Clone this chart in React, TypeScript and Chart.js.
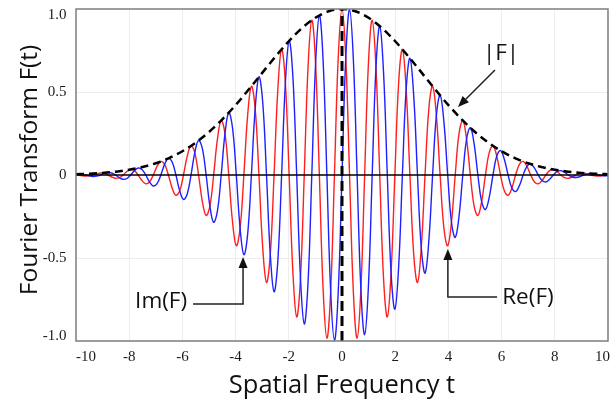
import React, { useEffect, useRef } from 'react';
import { Chart, registerables } from 'chart.js';

Chart.register(...registerables);

// Spatial frequency samples (t)
const tValues = [
  -10,
  -9.933, -9.791, -9.649, -9.507, -9.365, -9.224, -9.082, -8.94,
  -8.798, -8.656, -8.514, -8.372, -8.23, -8.088, -7.946, -7.805,
  -7.663, -7.521, -7.379, -7.237, -7.095, -6.953, -6.811, -6.669,
  -6.527, -6.386, -6.244, -6.102, -5.96, -5.818, -5.676, -5.534,
  -5.392, -5.25, -5.108, -4.967, -4.825, -4.683, -4.541, -4.399,
  -4.257, -4.115, -3.973, -3.831, -3.689, -3.548, -3.406, -3.264,
  -3.122, -2.98, -2.838, -2.696, -2.554, -2.412, -2.27, -2.129,
  -1.987, -1.845, -1.703, -1.561, -1.419, -1.277, -1.135, -0.993,
  -0.851, -0.71, -0.568, -0.426, -0.284, -0.142,
  0,
  0.142, 0.284, 0.426, 0.568, 0.71, 0.851,
  0.993, 1.135, 1.277, 1.419, 1.561, 1.703, 1.845, 1.987,
  2.129, 2.27, 2.412, 2.554, 2.696, 2.838, 2.98, 3.122,
  3.264, 3.406, 3.548, 3.689, 3.831, 3.973, 4.115, 4.257,
  4.399, 4.541, 4.683, 4.825, 4.967, 5.108, 5.25, 5.392,
  5.534, 5.676, 5.818, 5.96, 6.102, 6.244, 6.386, 6.527,
  6.669, 6.811, 6.953, 7.095, 7.237, 7.379, 7.521, 7.663,
  7.805, 7.946, 8.088, 8.23, 8.372, 8.514, 8.656, 8.798,
  8.94, 9.082, 9.224, 9.365, 9.507, 9.649, 9.791, 9.933,
  10,
];

// Re(F) — red
const reValues = [
  0.002,
  0, -0.004, -0.007, -0.005, 0, 0.007, 0.012, 0.01,
  0, -0.012, -0.02, -0.016, 0, 0.021, 0.033, 0.026,
  0, -0.033, -0.053, -0.042, 0, 0.052, 0.082, 0.064,
  0, -0.078, -0.122, -0.095, 0, 0.114, 0.176, 0.135,
  0, -0.16, -0.244, -0.187, 0, 0.216, 0.328, 0.249,
  0, -0.283, -0.426, -0.32, 0, 0.358, 0.535, 0.398,
  0, -0.438, -0.647, -0.478, 0, 0.516, 0.757, 0.554,
  0, -0.588, -0.855, -0.62, 0, 0.648, 0.933, 0.67,
  0, -0.688, -0.983, -0.7, 0, 0.706,
  1,
  0.706, 0, -0.7, -0.983, -0.688, 0,
  0.67, 0.933, 0.648, 0, -0.62, -0.855, -0.588, 0,
  0.554, 0.757, 0.516, 0, -0.478, -0.647, -0.438, 0,
  0.398, 0.535, 0.358, 0, -0.32, -0.426, -0.283, 0,
  0.249, 0.328, 0.216, 0, -0.187, -0.244, -0.16, 0,
  0.135, 0.176, 0.114, 0, -0.095, -0.122, -0.078, 0,
  0.064, 0.082, 0.052, 0, -0.042, -0.053, -0.033, 0,
  0.026, 0.033, 0.021, 0, -0.016, -0.02, -0.012, 0,
  0.01, 0.012, 0.007, 0, -0.005, -0.007, -0.004, 0,
  0.002,
];

// Im(F) — blue
const imValues = [
  0.004,
  0.005, 0.004, 0, -0.005, -0.009, -0.007, 0, 0.01,
  0.015, 0.012, 0, -0.016, -0.026, -0.021, 0, 0.026,
  0.042, 0.033, 0, -0.042, -0.066, -0.052, 0, 0.064,
  0.1, 0.078, 0, -0.095, -0.147, -0.114, 0, 0.135,
  0.208, 0.16, 0, -0.187, -0.285, -0.216, 0, 0.249,
  0.376, 0.283, 0, -0.32, -0.48, -0.358, 0, 0.398,
  0.591, 0.438, 0, -0.478, -0.703, -0.516, 0, 0.554,
  0.808, 0.588, 0, -0.62, -0.897, -0.648, 0, 0.67,
  0.962, 0.688, 0, -0.7, -0.996, -0.706,
  0,
  0.706, 0.996, 0.7, 0, -0.688, -0.962,
  -0.67, 0, 0.648, 0.897, 0.62, 0, -0.588, -0.808,
  -0.554, 0, 0.516, 0.703, 0.478, 0, -0.438, -0.591,
  -0.398, 0, 0.358, 0.48, 0.32, 0, -0.283, -0.376,
  -0.249, 0, 0.216, 0.285, 0.187, 0, -0.16, -0.208,
  -0.135, 0, 0.114, 0.147, 0.095, 0, -0.078, -0.1,
  -0.064, 0, 0.052, 0.066, 0.042, 0, -0.033, -0.042,
  -0.026, 0, 0.021, 0.026, 0.016, 0, -0.012, -0.015,
  -0.01, 0, 0.007, 0.009, 0.005, 0, -0.004, -0.005,
  -0.004,
];

// |F| envelope
const envT = [
  -10, -9.5, -9, -8.5, -8, -7.5, -7, -6.5, -6, -5.5, -5, -4.5, -4, -3.5, -3, -2.5, -2, -1.5, -1, -0.5,
  0,
  0.5, 1, 1.5, 2, 2.5, 3, 3.5, 4, 4.5, 5, 5.5, 6, 6.5, 7, 7.5, 8, 8.5, 9, 9.5, 10,
];
const envValues = [
  0.0045, 0.0077, 0.0126, 0.0202, 0.0316, 0.0479, 0.0707, 0.1021, 0.143, 0.1952, 0.2592, 0.335, 0.4211, 0.5161, 0.6151, 0.7136, 0.8057, 0.8856, 0.9474, 0.9866,
  1,
  0.9866, 0.9474, 0.8856, 0.8057, 0.7136, 0.6151, 0.5161, 0.4211, 0.335, 0.2592, 0.1952, 0.143, 0.1021, 0.0707, 0.0479, 0.0316, 0.0202, 0.0126, 0.0077, 0.0045,
];

// vertical dashed line at t = 0
const centerT = [0, 0];
const centerV = [-1, 1];

const xTicks = [-10, -8, -6, -4, -2, 0, 2, 4, 6, 8, 10];
const xTickLabels = ['-10', '-8', '-6', '-4', '-2', '0', '2', '4', '6', '8', '10'];
const yTicks = [1, 0.5, 0, -0.5, -1];
const yTickLabels = ['1.0', '0.5', '0', '-0.5', '-1.0'];

const xTitle = 'Spatial Frequency t';
const yTitle = 'Fourier Transform F(t)';

const annotationTexts = ['|F|', 'Im(F)', 'Re(F)'];
const annotationAnchors = [
  [5.98, 0.729],
  [-6.8, -0.765],
  [6.99, -0.741],
];
const annotationPaths = [
  [[5.75, 0.633], [4.36, 0.41]],
  [[-5.6, -0.777], [-3.72, -0.777], [-3.72, -0.494]],
  [[5.83, -0.735], [3.98, -0.735], [3.98, -0.446]],
];

const toXY = (xs: number[], ys: number[]) => xs.map((x, i) => ({ x, y: ys[i] }));

const decorPlugin = {
  id: 'decor',
  afterDatasetsDraw(chart: any) {
    const { ctx, chartArea: a, scales } = chart;
    const y = scales.y;
    ctx.save();
    const y0 = y.getPixelForValue(0);
    ctx.strokeStyle = '#000';
    ctx.lineWidth = 1.5;
    ctx.beginPath();
    ctx.moveTo(a.left, y0);
    ctx.lineTo(a.right, y0);
    ctx.stroke();
    ctx.restore();
  },
  afterDraw(chart: any) {
    const { ctx, chartArea: a, scales } = chart;
    const xs = scales.x;
    const ys = scales.y;
    ctx.save();

    // frame
    ctx.strokeStyle = '#7d7d7d';
    ctx.lineWidth = 1.5;
    ctx.strokeRect(a.left, a.top, a.right - a.left, a.bottom - a.top);

    // tick labels
    ctx.fillStyle = '#1a1a1a';
    ctx.font = '15px "Liberation Serif", "Times New Roman", serif';
    ctx.textBaseline = 'middle';
    ctx.textAlign = 'center';
    xTicks.forEach((v, i) => {
      const label = xTickLabels[i];
      const w = ctx.measureText(label).width;
      let px = xs.getPixelForValue(v);
      px = Math.max(a.left + w / 2, Math.min(a.right + 2 - w / 2, px));
      ctx.fillText(label, px, a.bottom + 16);
    });
    ctx.textAlign = 'right';
    yTicks.forEach((v, i) => {
      let py = ys.getPixelForValue(v);
      py = Math.max(a.top + 6.5, Math.min(a.bottom - 4.5, py));
      ctx.fillText(yTickLabels[i], a.left - 9.5, py);
    });

    // axis titles
    ctx.fillStyle = '#111';
    ctx.textAlign = 'center';
    ctx.font = '25.5px "Open Sans", sans-serif';
    ctx.fillText(xTitle, (a.left + a.right) / 2, a.bottom + 45);
    ctx.font = '24.5px "Open Sans", sans-serif';
    ctx.save();
    ctx.translate(a.left - 46, (a.top + a.bottom) / 2 - 5);
    ctx.rotate(-Math.PI / 2);
    ctx.fillText(yTitle, 0, 0);
    ctx.restore();

    // annotations
    ctx.font = '22.5px "Open Sans", sans-serif';
    ctx.fillStyle = '#111';
    ctx.strokeStyle = '#222';
    ctx.lineWidth = 1.5;
    annotationTexts.forEach((text, i) => {
      const [lx, ly] = annotationAnchors[i];
      ctx.fillText(text, xs.getPixelForValue(lx), ys.getPixelForValue(ly));
      const pts = annotationPaths[i].map(([px, py]) => [xs.getPixelForValue(px), ys.getPixelForValue(py)]);
      const n = pts.length;
      const [ex, ey] = pts[n - 1];
      const [sx, sy] = pts[n - 2];
      const ang = Math.atan2(ey - sy, ex - sx);
      const headLen = 11;
      const headHalf = 4.5;
      const bx = ex - headLen * Math.cos(ang);
      const by = ey - headLen * Math.sin(ang);
      ctx.beginPath();
      ctx.moveTo(pts[0][0], pts[0][1]);
      for (let k = 1; k < n - 1; k++) ctx.lineTo(pts[k][0], pts[k][1]);
      ctx.lineTo(bx, by);
      ctx.stroke();
      ctx.beginPath();
      ctx.moveTo(ex, ey);
      ctx.lineTo(bx + headHalf * Math.sin(ang), by - headHalf * Math.cos(ang));
      ctx.lineTo(bx - headHalf * Math.sin(ang), by + headHalf * Math.cos(ang));
      ctx.closePath();
      ctx.fill();
    });

    ctx.restore();
  },
};

export default function App() {
  const canvasRef = useRef<HTMLCanvasElement | null>(null);

  useEffect(() => {
    const canvas = canvasRef.current;
    if (!canvas) return;
    const faint = '#ededed';
    const chart = new Chart(canvas, {
      type: 'line',
      data: {
        datasets: [
          {
            label: 'center',
            data: toXY(centerT, centerV),
            borderColor: '#000',
            borderWidth: 3,
            borderDash: [10, 5],
            pointRadius: 0,
            fill: false,
            order: 1,
          },
          {
            label: '|F|',
            data: toXY(envT, envValues),
            borderColor: '#000',
            borderWidth: 2.5,
            borderDash: [8, 5],
            pointRadius: 0,
            cubicInterpolationMode: 'monotone',
            fill: false,
            order: 2,
          },
          {
            label: 'Im(F)',
            data: toXY(tValues, imValues),
            borderColor: '#1f1fff',
            borderWidth: 1.4,
            pointRadius: 0,
            tension: 0.4,
            fill: false,
            order: 3,
          },
          {
            label: 'Re(F)',
            data: toXY(tValues, reValues),
            borderColor: '#ff1f1f',
            borderWidth: 1.4,
            pointRadius: 0,
            tension: 0.4,
            fill: false,
            order: 4,
          },
        ],
      },
      options: {
        responsive: false,
        animation: false,
        events: [],
        parsing: true,
        layout: { padding: { left: 0, right: 5, top: 9, bottom: 0 } },
        plugins: {
          legend: { display: false },
          tooltip: { enabled: false },
        },
        scales: {
          x: {
            type: 'linear',
            min: -10,
            max: 10,
            ticks: { display: false, stepSize: 2 },
            grid: {
              drawTicks: false,
              color: (c: any) => (c.tick && (c.tick.value === 0 || Math.abs(c.tick.value) === 10) ? 'rgba(0,0,0,0)' : faint),
              lineWidth: 1,
            },
            border: { display: false },
            afterFit: (s: any) => {
              s.height = 63;
            },
          },
          y: {
            type: 'linear',
            min: -1,
            max: 1,
            ticks: { display: false, stepSize: 0.5 },
            grid: {
              drawTicks: false,
              color: (c: any) => (c.tick && (c.tick.value === 0 || Math.abs(c.tick.value) === 1) ? 'rgba(0,0,0,0)' : faint),
              lineWidth: 1,
            },
            border: { display: false },
            afterFit: (s: any) => {
              s.width = 76;
            },
          },
        },
      } as any,
      plugins: [decorPlugin],
    });
    return () => chart.destroy();
  }, []);

  return (
    <div style={{ position: 'absolute', left: 0, top: 0, width: 613, height: 404, background: '#fff' }}>
      <canvas ref={canvasRef} width={613} height={404} style={{ display: 'block' }} />
    </div>
  );
}
